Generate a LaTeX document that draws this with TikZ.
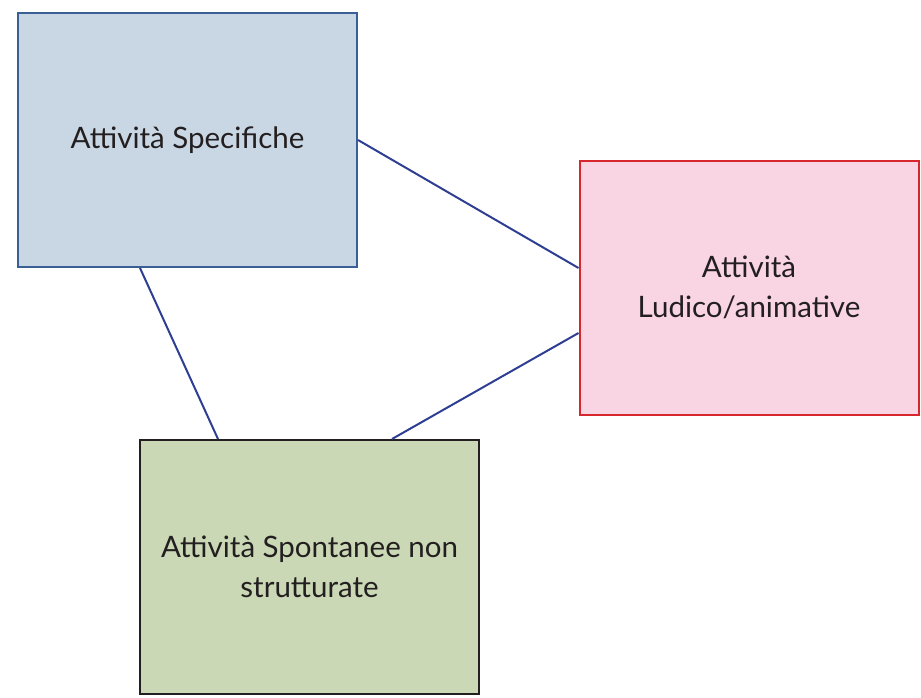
\documentclass[tikz,border=0pt]{standalone}
\usepackage{fontspec}
\setmainfont{Lato}
\usepackage{tikz}
\usetikzlibrary{positioning}

\definecolor{specfill}{HTML}{C9D7E5}
\definecolor{specdraw}{HTML}{3A5F95}
\definecolor{ludfill}{HTML}{F9D4E3}
\definecolor{luddraw}{HTML}{D8262F}
\definecolor{spontfill}{HTML}{CAD8B5}
\definecolor{spontdraw}{HTML}{231F20}
\definecolor{linkblue}{HTML}{2E3F93}
\definecolor{txt}{HTML}{231F20}

\begin{document}
\begin{tikzpicture}[x=1pt,y=-1pt]
\tikzstyle{box} = [draw,line width=2pt,inner sep=0pt,minimum width=339pt,minimum height=254pt,
  align=center,text=txt,font=\fontsize{29.5}{40}\selectfont]
\tikzstyle{link} = [draw=linkblue,line width=2pt]

\useasboundingbox (0,0) rectangle (921,697);

\node[box,fill=specfill,draw=specdraw] (spec) at (187.5,140) {Attività Specifiche};
\node[box,fill=ludfill,draw=luddraw] (lud) at (749,287.5) {Attività\\Ludico/animative};
\node[box,fill=spontfill,draw=spontdraw] (spont) at (309.5,567) {Attività Spontanee non\\strutturate};

\draw[link] (spec.east) -- ([yshift=19.5pt]lud.west);
\draw[link] ([yshift=-45.5pt]lud.west) -- ([xshift=82.5pt]spont.north);
\draw[link] ([xshift=-47.5pt]spec.south) -- ([xshift=-91.5pt]spont.north);

\end{tikzpicture}
\end{document}
